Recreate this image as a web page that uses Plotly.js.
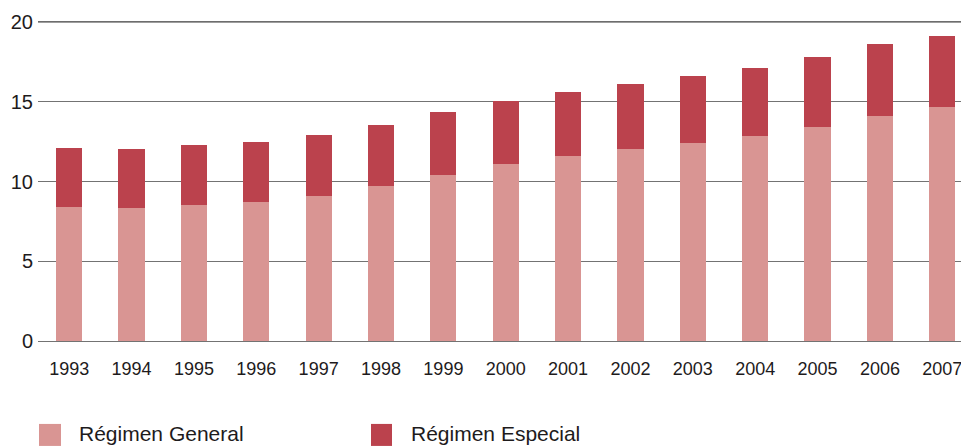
<!DOCTYPE html>
<html>
<head>
<meta charset="utf-8">
<script src="https://cdn.plot.ly/plotly-3.0.1.min.js"></script>
<style>
html,body{margin:0;padding:0;background:#fff;}
#chart{width:961px;height:446px;}
</style>
</head>
<body>
<div id="chart"></div>
<script>
const years = ["1993","1994","1995","1996","1997","1998","1999","2000","2001","2002","2003","2004","2005","2006","2007"];
const regimenGeneral = [8.41, 8.35, 8.54, 8.74, 9.10, 9.72, 10.41, 11.10, 11.60, 12.04, 12.42, 12.86, 13.42, 14.11, 14.67];
const totalTop = [12.10, 12.04, 12.29, 12.48, 12.92, 13.55, 14.36, 15.05, 15.61, 16.11, 16.61, 17.11, 17.80, 18.62, 19.12];
const regimenEspecial = totalTop.map((t, i) => +(t - regimenGeneral[i]).toFixed(2));
const seriesNames = ["Régimen General", "Régimen Especial"];
const colors = ["#D99593", "#BB424D"];
const yTicks = [0, 5, 10, 15, 20];

const FONT = "'Liberation Sans', Arial, sans-serif";
const TXT = '#1e1b1c';
const W = 961, H = 446;
const m = {l: 38, r: 0, t: 21.2, b: 103.9};
const pw = W - m.l - m.r, ph = H - m.t - m.b;
const px = x => (x - m.l) / pw;
const py = y => (H - m.b - y) / ph;

const traces = [
  {type: 'bar', x: years, y: regimenGeneral, name: seriesNames[0], marker: {color: colors[0]}, width: 0.42, showlegend: false},
  {type: 'bar', x: years, y: regimenEspecial, name: seriesNames[1], marker: {color: colors[1]}, width: 0.42, showlegend: false}
];

// legend drawn as shapes + annotations
const legendItems = [
  {sq: [39, 61], tx: 77},
  {sq: [371, 392], tx: 409}
];
const shapes = legendItems.map((it, i) => ({
  type: 'rect', xref: 'paper', yref: 'paper',
  x0: px(it.sq[0]), x1: px(it.sq[1]), y0: py(446), y1: py(424),
  fillcolor: colors[i], line: {width: 0}
}));
// darker top rule at y = 20
shapes.push({type: 'line', xref: 'paper', yref: 'y', x0: 0, x1: 1, y0: 20, y1: 20,
  line: {color: '#3c3c3c', width: 1.3}, layer: 'below'});

const annotations = legendItems.map((it, i) => ({
  xref: 'paper', yref: 'paper', x: px(it.tx), y: py(434), xanchor: 'left', yanchor: 'middle',
  text: seriesNames[i], showarrow: false, font: {family: FONT, size: 21, color: TXT}
}));

const layout = {
  width: W, height: H,
  margin: m,
  paper_bgcolor: '#fff', plot_bgcolor: '#fff',
  barmode: 'stack',
  showlegend: false,
  font: {family: FONT, color: TXT},
  xaxis: {
    type: 'category', range: [-0.5, 14.3], showgrid: false, zeroline: false, showline: false,
    ticks: '', tickfont: {family: FONT, size: 18, color: TXT}, ticklabelstandoff: 14, fixedrange: true
  },
  yaxis: {
    range: [-0.05, 20.05], tickvals: yTicks, ticktext: yTicks.map(String),
    showgrid: true, gridcolor: '#737373', gridwidth: 1.3,
    zeroline: true, zerolinecolor: '#737373', zerolinewidth: 1.3, showline: false,
    ticks: '', tickfont: {family: FONT, size: 20, color: TXT}, ticklabelstandoff: 4, fixedrange: true
  },
  shapes: shapes,
  annotations: annotations
};

Plotly.newPlot('chart', traces, layout, {displayModeBar: false, staticPlot: true});
</script>
</body>
</html>
